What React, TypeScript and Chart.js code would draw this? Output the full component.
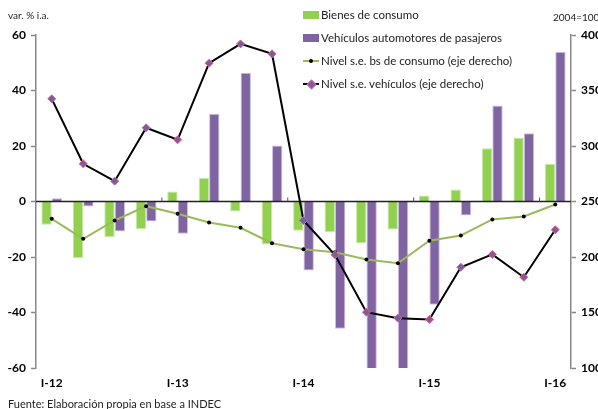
import React, { useEffect, useRef } from "react";
import { Chart, registerables } from "chart.js";

Chart.register(...registerables);

const categories = [
  "I-12", "II-12", "III-12", "IV-12",
  "I-13", "II-13", "III-13", "IV-13",
  "I-14", "II-14", "III-14", "IV-14",
  "I-15", "II-15", "III-15", "IV-15",
  "I-16",
];

const bienesConsumo = [-8.4, -20.4, -12.9, -9.9, 3.6, 8.5, -3.6, -15.5, -10.5, -11.0, -15.0, -10.1, 2.2, 4.3, 19.2, 23.0, 13.6];
const vehiculos = [1.2, -1.8, -10.8, -7.2, -11.6, 31.6, 46.4, 20.2, -24.9, -45.9, -62, -62, -37.2, -5.0, 34.6, 24.6, 54.0];
const nivelBsConsumo = [234.4, 216.4, 232.9, 245.8, 238.9, 231.1, 226.3, 212.4, 207, 204.3, 197.7, 194.4, 214.6, 219.4, 233.8, 236.5, 247.3];
const nivelVehiculos = [342.5, 284, 268.3, 316.4, 305.6, 374.6, 392, 383, 232.9, 202, 150.3, 144.9, 143.7, 190.8, 202.3, 181.8, 224.5];

const leftTicks = [-60, -40, -20, 0, 20, 40, 60];
const rightTicks = [100, 150, 200, 250, 300, 350, 400];

const GREEN = "#92D050";
const PURPLE = "#8064A2";
const GREEN_LINE = "#9BBB59";
const FONT = "Lato, 'DejaVu Sans', sans-serif";

const zeroLinePlugin = {
  id: "zeroLine",
  afterDatasetDraw(chart: any, args: any) {
    if (args.index !== 0) return;
    const { ctx, chartArea, scales } = chart;
    const y0 = scales.y.getPixelForValue(0);
    ctx.save();
    ctx.strokeStyle = "#222";
    ctx.lineWidth = 1.5;
    ctx.beginPath();
    ctx.moveTo(chartArea.left, y0);
    ctx.lineTo(chartArea.right, y0);
    ctx.stroke();
    ctx.lineWidth = 1;
    ctx.strokeStyle = "#555";
    for (let i = 4; i < categories.length; i += 4) {
      const x = (scales.x.getPixelForValue(i - 1) + scales.x.getPixelForValue(i)) / 2;
      ctx.beginPath();
      ctx.moveTo(x, y0);
      ctx.lineTo(x, y0 - 4);
      ctx.stroke();
    }
    ctx.restore();
  },
};

function LegendItem({ kind, color, label, marker }: any) {
  return (
    <div style={{ display: "flex", alignItems: "center", height: 23 }}>
      <div style={{ width: 16, height: 12, position: "relative", marginRight: 2 }}>
        {kind === "box" ? (
          <div style={{ position: "absolute", left: 0, top: 2, width: 16, height: 8, background: color }} />
        ) : (
          <>
            <div style={{ position: "absolute", left: 0, top: 5, width: 16, height: 2, background: color }} />
            {marker === "dot" ? (
              <div style={{ position: "absolute", left: 6, top: 4, width: 4, height: 4, borderRadius: 2, background: "#000" }} />
            ) : (
              <div style={{ position: "absolute", left: 5, top: 3, width: 5, height: 5, background: "#7B5BA6", border: "1px solid #E0607A", transform: "rotate(45deg)" }} />
            )}
          </>
        )}
      </div>
      <span>{label}</span>
    </div>
  );
}

export default function App() {
  const ref = useRef<HTMLCanvasElement>(null);

  useEffect(() => {
    if (!ref.current) return;
    const chart = new Chart(ref.current, {
      type: "bar",
      data: {
        labels: categories,
        datasets: [
          {
            type: "bar",
            label: "Bienes de consumo",
            data: bienesConsumo,
            backgroundColor: GREEN,
            borderColor: "rgba(190,230,160,0.9)",
            borderWidth: 1,
            yAxisID: "y",
            order: 2,
            categoryPercentage: 0.66,
            barPercentage: 1,
          },
          {
            type: "bar",
            label: "Vehículos automotores de pasajeros",
            data: vehiculos,
            backgroundColor: PURPLE,
            borderColor: "rgba(200,185,225,0.9)",
            borderWidth: 1,
            yAxisID: "y",
            order: 2,
            categoryPercentage: 0.66,
            barPercentage: 1,
          },
          {
            type: "line",
            label: "Nivel s.e. bs de consumo (eje derecho)",
            data: nivelBsConsumo,
            borderColor: GREEN_LINE,
            borderWidth: 2,
            pointRadius: 2,
            pointBackgroundColor: "#000",
            pointBorderColor: "#000",
            pointBorderWidth: 0,
            yAxisID: "y1",
            order: 1,
            tension: 0,
          },
          {
            type: "line",
            label: "Nivel s.e. vehículos (eje derecho)",
            data: nivelVehiculos,
            borderColor: "#000",
            borderWidth: 2,
            pointStyle: "rectRot",
            pointRadius: 4,
            pointBackgroundColor: "#7B5BA6",
            pointBorderColor: "#E0607A",
            pointBorderWidth: 1,
            yAxisID: "y1",
            order: 0,
            tension: 0,
          },
        ] as any,
      },
      options: {
        animation: false,
        responsive: false,
        maintainAspectRatio: false,
        layout: { padding: { top: 35, left: 0, right: 0, bottom: 0 } },
        plugins: {
          legend: { display: false },
          tooltip: { enabled: false },
        },
        scales: {
          x: {
            grid: { display: false, drawTicks: false },
            border: { display: false },
            ticks: {
              autoSkip: false,
              maxRotation: 0,
              padding: 8,
              color: "#000",
              font: { family: FONT, size: 12, weight: "bold" },
              callback: (_v: any, i: number) => (i % 4 === 0 ? categories[i] : ""),
            },
            afterFit: (s: any) => { s.height = 41; },
          },
          y: {
            position: "left",
            min: -60,
            max: 60,
            afterBuildTicks: (s: any) => { s.ticks = leftTicks.map((v) => ({ value: v })); },
            grid: { drawOnChartArea: false, tickLength: 5, color: "#888", tickWidth: 1.5 },
            border: { display: true, color: "#888", width: 1.5 },
            ticks: {
              padding: 5,
              color: "#000",
              font: { family: FONT, size: 12, weight: "bold" },
            },
            afterFit: (s: any) => { s.width = 36; },
          },
          y1: {
            position: "right",
            min: 100,
            max: 400,
            afterBuildTicks: (s: any) => { s.ticks = rightTicks.map((v) => ({ value: v })); },
            grid: { drawOnChartArea: false, tickLength: 5, color: "#888", tickWidth: 1.5 },
            border: { display: true, color: "#888", width: 1.5 },
            ticks: {
              padding: 5,
              color: "#000",
              font: { family: FONT, size: 12, weight: "bold" },
            },
            afterFit: (s: any) => { s.width = 27; },
          },
        },
      } as any,
      plugins: [zeroLinePlugin],
    });
    return () => chart.destroy();
  }, []);

  return (
    <div style={{ position: "absolute", left: 0, top: 0, width: 598, height: 409, background: "#fff", fontFamily: FONT, overflow: "hidden" }}>
      <canvas ref={ref} width={598} height={409} style={{ position: "absolute", left: 0, top: 0 }} />
      <div style={{ position: "absolute", left: 8, top: 9, fontSize: 10, color: "#222" }}>var. % i.a.</div>
      <div style={{ position: "absolute", left: 553, top: 11, fontSize: 10, color: "#222" }}>2004=100</div>
      <div style={{ position: "absolute", left: 303, top: 3, fontSize: 11.5, color: "#222" }}>
        <LegendItem kind="box" color={GREEN} label="Bienes de consumo" />
        <LegendItem kind="box" color={PURPLE} label="Vehículos automotores de pasajeros" />
        <LegendItem kind="line" color={GREEN_LINE} marker="dot" label="Nivel s.e. bs de consumo (eje derecho)" />
        <LegendItem kind="line" color="#000" marker="diamond" label="Nivel s.e. vehículos (eje derecho)" />
      </div>
      <div style={{ position: "absolute", left: 8, top: 397, fontSize: 11, color: "#222" }}>Fuente: Elaboración propia en base a INDEC</div>
    </div>
  );
}
